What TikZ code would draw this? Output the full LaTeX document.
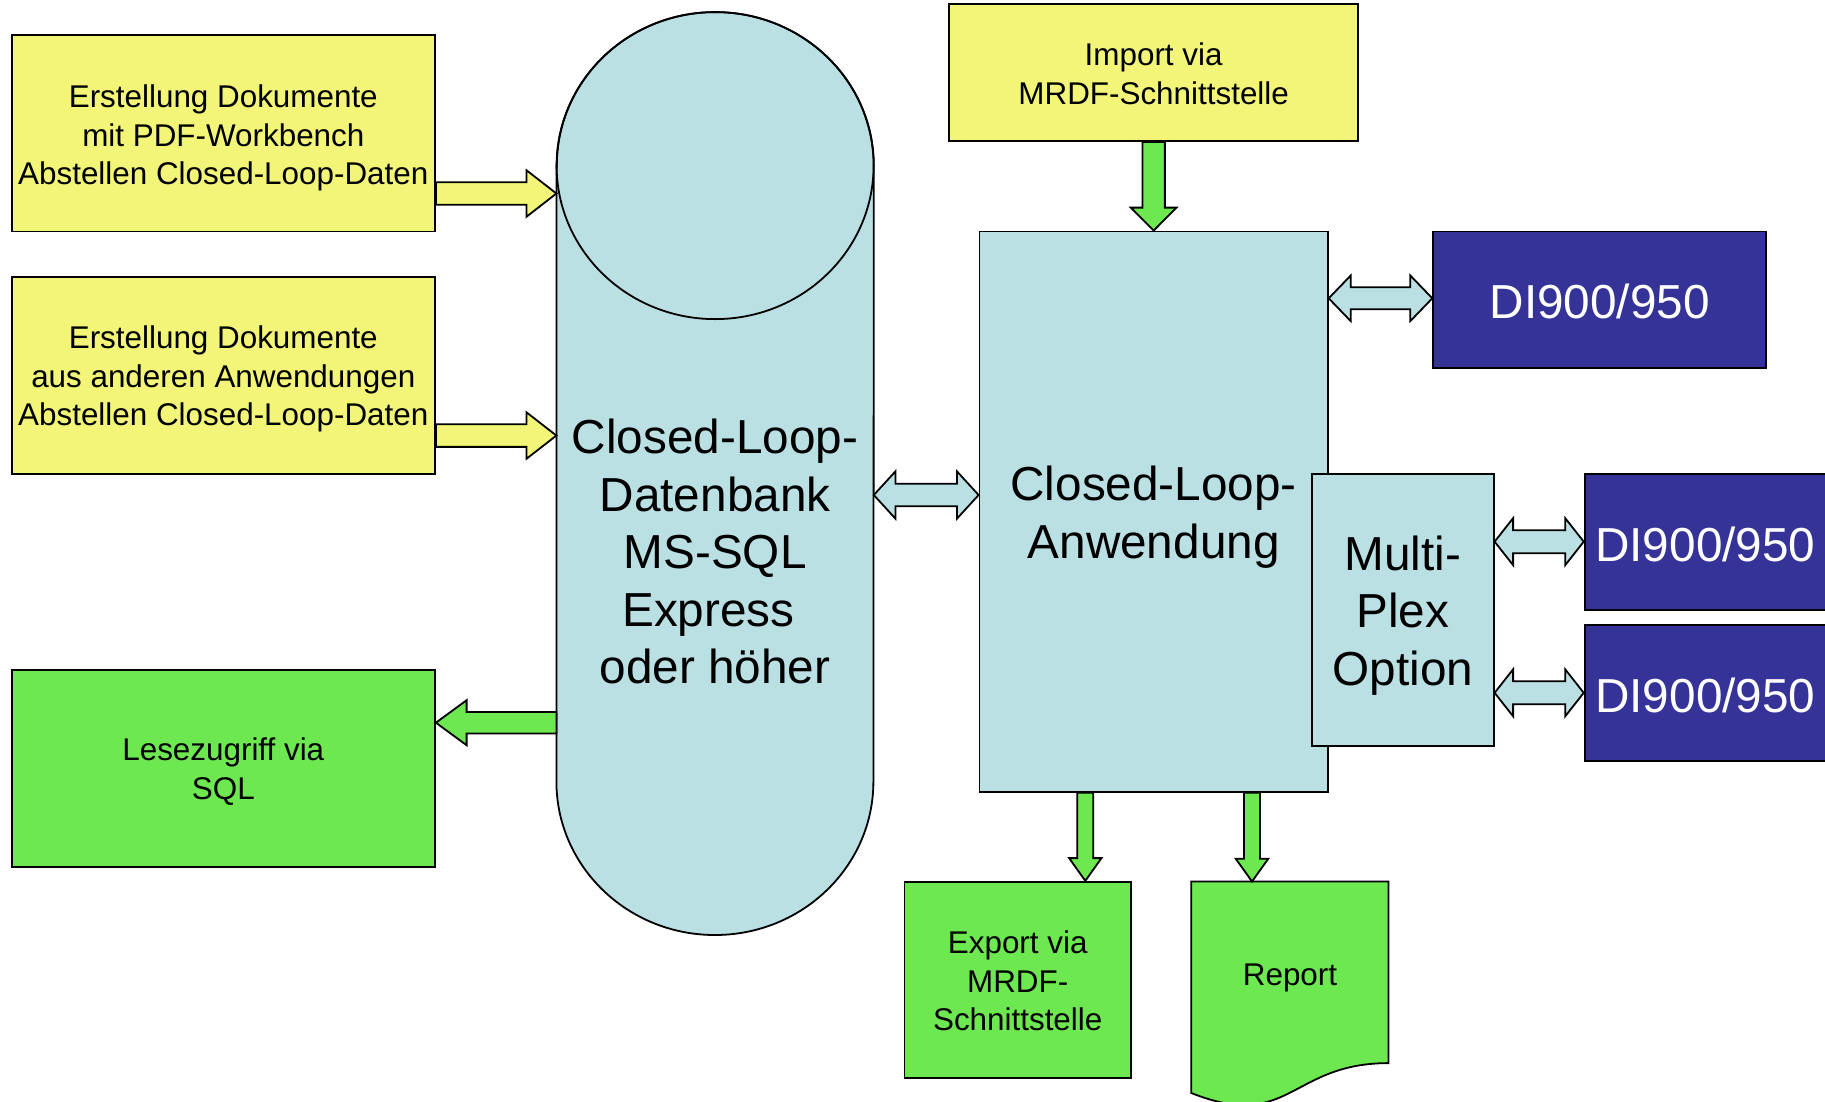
\documentclass[tikz,border=0pt]{standalone}
\usepackage{fontspec}
\setmainfont{Liberation Sans}
\usetikzlibrary{calc}
\definecolor{cyel}{RGB}{243,245,120}
\definecolor{cblue}{RGB}{186,224,227}
\definecolor{cgreen}{RGB}{110,232,80}
\definecolor{cdark}{RGB}{53,51,151}
% block arrow: style, from, to, shaft half width, head half width, head length
\newcommand\blockarrow[6]{%
  \coordinate (baS) at (#2);
  \coordinate (baE) at (#3);
  \coordinate (baB) at ($(baE)!#6!(baS)$);
  \draw[#1] ($(baS)!#4!90:(baE)$) -- ($(baB)!#4!90:(baE)$) -- ($(baB)!#5!90:(baE)$) -- (baE)
    -- ($(baB)!#5!-90:(baE)$) -- ($(baB)!#4!-90:(baE)$) -- ($(baS)!#4!-90:(baE)$) -- cycle;}
\newcommand\dblarrow[6]{%
  \coordinate (baS) at (#2);
  \coordinate (baE) at (#3);
  \coordinate (baB) at ($(baS)!#6!(baE)$);
  \coordinate (baC) at ($(baE)!#6!(baS)$);
  \draw[#1] (baS) -- ($(baB)!#5!90:(baE)$) -- ($(baB)!#4!90:(baE)$) -- ($(baC)!#4!90:(baE)$)
    -- ($(baC)!#5!90:(baE)$) -- (baE) -- ($(baC)!#5!-90:(baE)$) -- ($(baC)!#4!-90:(baE)$)
    -- ($(baB)!#4!-90:(baE)$) -- ($(baB)!#5!-90:(baE)$) -- cycle;}
\begin{document}
\begin{tikzpicture}[x=1pt,y=-1pt,
  box/.style={draw, line width=1.8pt, inner sep=0pt},
  txt/.style={inner sep=0pt, align=center},
  small/.style={txt, font=\fontsize{31.4}{38.4}\selectfont},
  big/.style={txt, font=\fontsize{47.7}{57.6}\selectfont},
  yel/.style={box, fill=cyel},
  grn/.style={box, fill=cgreen},
  lbl/.style={box, fill=cblue},
  dark/.style={box, fill=cdark},
  arr/.style={draw, line width=1.8pt, line join=miter},
]
\useasboundingbox (0,0) rectangle (1825,1101);
\clip (0,0) rectangle (1825,1101);

% left boxes
\node[yel, minimum width=423.4pt, minimum height=196.5pt] (y1) at (223.3,133.25) {};
\node[small] (y1t) at ([yshift=-4.7pt]y1.center)
  {Erstellung Dokumente\\mit PDF-Workbench\\Abstellen Closed-Loop-Daten};
\node[yel, minimum width=423.4pt, minimum height=196.6pt] (y2) at (223.3,375.3) {};
\node[small] (y2t) at ([yshift=-3.6pt]y2.center)
  {Erstellung Dokumente\\aus anderen Anwendungen\\Abstellen Closed-Loop-Daten};
\node[grn, minimum width=423.4pt, minimum height=196.8pt] (les) at (223.3,768.6) {};
\node[small] (lest) at ([yshift=-3pt]les.center) {Lesezugriff via\\SQL};

% database cylinder
\node[inner sep=0pt, minimum width=317pt, minimum height=922.5pt] (db) at (715.1,473.55) {};
\draw[fill=cblue, line width=1.8pt]
  ($(db.north west)+(0,153.5)$) -- ($(db.south west)+(0,-153.5)$)
  arc[start angle=180, end angle=360, x radius=158.5pt, y radius=153.5pt]
  -- ($(db.north east)+(0,153.5)$)
  arc[start angle=0, end angle=180, x radius=158.5pt, y radius=153.5pt] -- cycle;
\draw[line width=1.8pt] ($(db.north)+(0,153.5)$) ellipse[x radius=158.5pt, y radius=153.5pt];
\node[big] (dbtext) at (715.1,551.7)
  {Closed-Loop-\\Datenbank\\MS-SQL\\Express\kern13.3pt\\oder höher};

% application
\node[yel, minimum width=408.7pt, minimum height=136.8pt] (imp) at (1153.65,72.6) {};
\node[small] (impt) at ([yshift=-1.2pt]imp.center) {Import via\\MRDF-Schnittstelle};
\node[lbl, minimum width=348.3pt, minimum height=560.3pt] (app) at (1153.65,511.65) {};
\node[big] (appt) at ([yshift=-5.8pt]app.center) {Closed-Loop-\\Anwendung};
\node[lbl, minimum width=181.7pt, minimum height=272.1pt] (mux) at (1402.85,609.65) {};
\node[big] (muxt) at ([yshift=-6pt]mux.center) {Multi-\\Plex\\Option};
\node[dark, minimum width=333pt, minimum height=136.1pt] (di1) at (1599.7,299.55) {};
\node[big, text=white] (di1t) at ([yshift=-2.3pt]di1.center) {DI900/950};
\node[dark, minimum width=241.4pt, minimum height=136.1pt] (di2) at (1705.3,541.65) {};
\node[big, text=white] (di2t) at ([yshift=-2.3pt]di2.center) {DI900/950};
\node[dark, minimum width=241.4pt, minimum height=136pt] (di3) at (1705.3,692.8) {};
\node[big, text=white] (di3t) at ([yshift=-2.3pt]di3.center) {DI900/950};

% outputs
\node[grn, minimum width=226.6pt, minimum height=196.3pt] (exp) at (1017.7,979.85) {};
\node[small] (expt) at ([yshift=-1.2pt]exp.center) {Export via\\MRDF-\\Schnittstelle};
\node[inner sep=0pt, minimum width=196.8pt, minimum height=226.4pt] (rep) at (1289.9,994.9) {};
\draw[fill=cgreen, line width=1.8pt] (rep.north west) -- (rep.north east)
  -- ($(rep.north east)+(0,181.6)$)
  .. controls ($(rep.north)+(0,181.6)$) and ($(rep.north)+(0,250.7)$) .. ($(rep.north west)+(0,211.5)$)
  -- cycle;
\node[small, anchor=base] (reptext) at (1290,985) {Report};

% connectors
\coordinate (a1s) at ([yshift=-60.25pt]y1.east);
\blockarrow{arr, fill=cyel}{a1s}{a1s -| db.west}{11.3pt}{23.3pt}{30pt}
\coordinate (a2s) at ([yshift=-60.25pt]y2.east);
\blockarrow{arr, fill=cyel}{a2s}{a2s -| db.west}{11.3pt}{23.3pt}{30pt}
\coordinate (a3e) at ([yshift=45.9pt]les.east);
\blockarrow{arr, fill=cgreen}{a3e -| db.west}{a3e}{10.7pt}{22.5pt}{30.7pt}
\coordinate (a4s) at ([yshift=-21.45pt]db.east);
\dblarrow{arr, fill=cblue}{a4s}{a4s -| app.west}{11.2pt}{23.6pt}{21.6pt}
\blockarrow{arr, fill=cgreen}{imp.south}{app.north}{11.2pt}{22.8pt}{23pt}
\coordinate (a6s) at ([yshift=213.35pt]app.east);
\dblarrow{arr, fill=cblue}{a6s}{a6s -| di1.west}{11pt}{22.8pt}{22pt}
\dblarrow{arr, fill=cblue}{di2.west -| mux.east}{di2.west}{11.5pt}{23.5pt}{18.5pt}
\dblarrow{arr, fill=cblue}{di3.west -| mux.east}{di3.west}{11.5pt}{23.5pt}{18.5pt}
\coordinate (a9s) at ([xshift=-68.35pt]app.south);
\blockarrow{arr, fill=cgreen}{a9s}{a9s |- exp.north}{8pt}{16.2pt}{22.7pt}
\coordinate (a10s) at ([xshift=98.35pt]app.south);
\blockarrow{arr, fill=cgreen}{a10s}{a10s |- rep.north}{8pt}{16.2pt}{22.7pt}
\end{tikzpicture}
\end{document}
